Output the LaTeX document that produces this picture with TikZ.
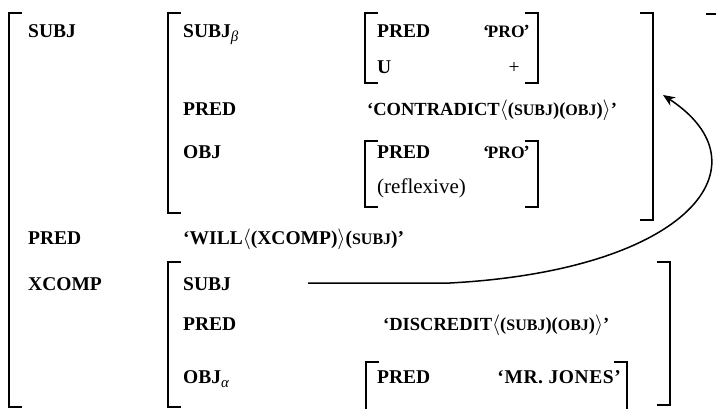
\documentclass[tikz,border=0pt]{standalone}
\usepackage{fontspec}
\setmainfont{Liberation Serif}
\usetikzlibrary{arrows.meta}
% small capitals for feature names inside semantic forms
\newcommand\smc[1]{{\fontsize{16}{17}\selectfont #1}}
% greek index on an attribute name
\newcommand\idx[1]{\raisebox{-4pt}{\mdseries\itshape\fontsize{15}{15}\selectfont #1}}
\newcommand\lang{{\mdseries\fontsize{20}{20}\selectfont$\langle$}}
\newcommand\rang{{\mdseries\fontsize{20}{20}\selectfont$\rangle$}}
\begin{document}
\begin{tikzpicture}[x=1pt,y=-1pt,
  attr/.style={anchor=base west, inner sep=0pt, font=\bfseries\fontsize{19.5}{22}\selectfont},
  form/.style={attr, font=\bfseries\fontsize{18.5}{22}\selectfont},
  plain/.style={anchor=base west, inner sep=0pt, font=\fontsize{21}{24}\selectfont},
  brk/.style={line width=1.1pt},
  link/.style={line width=1.5pt, -{Stealth[length=12pt,width=10pt]}}]
\useasboundingbox (0,0) rectangle (716,408);

% left bracket: \lbrk{x}{top}{bottom}, right bracket: \rbrk{x}{top}{bottom}
\newcommand\lbrk[3]{\draw[brk] (#1+13,#2) -- (#1,#2) -- (#1,#3) -- (#1+13,#3);}
\newcommand\rbrk[3]{\draw[brk] (#1-13,#2) -- (#1,#2) -- (#1,#3) -- (#1-13,#3);}

% outer f-structure
\lbrk{9}{13}{407}
\draw[brk] (706,14) -- (716,14);

% SUBJ f-structure
\lbrk{168}{13}{213}
\rbrk{653}{13}{220}
\lbrk{365}{13}{83}
\rbrk{538}{13}{83}
\lbrk{365}{141}{207}
\rbrk{538}{141}{207}

% XCOMP f-structure
\lbrk{168}{262}{407}
\rbrk{670}{262}{405}
\draw[brk] (379,362) -- (366,362) -- (366,410);
\draw[brk] (614,362) -- (627,362) -- (627,410);

% outer attributes
\node[attr] (f-subj)  at (28,37)  {SUBJ};
\node[attr] (f-pred)  at (28,244) {PRED};
\node[attr] (f-predv) at (183,244) {‘WILL\lang(XCOMP)\rang(\smc{SUBJ})’};
\node[attr] (f-xcomp) at (28,290) {XCOMP};

% SUBJ value
\node[attr] (s-subj)  at (183,37)  {SUBJ\idx{β}};
\node[attr] (b-pred)  at (377,37)  {PRED};
\node[form, anchor=base east] (b-pro) at (530,37) {‘\kern-1.5pt{\fontsize{17.5}{18}\selectfont PRO}\kern-1pt’};
\node[attr] (b-u)     at (377,73)  {U};
\node[attr, anchor=base] (b-plus) at (514,73) {\mdseries +};
\node[attr] (s-pred)  at (183,115) {PRED};
\node[form] (s-predv) at (367,115) {‘CONTRADICT\lang(\smc{SUBJ})(\smc{OBJ})\rang’};
\node[attr] (s-obj)   at (183,158) {OBJ};
\node[attr] (o-pred)  at (377,158) {PRED};
\node[form, anchor=base east] (o-pro) at (530,158) {‘\kern-1.5pt{\fontsize{17.5}{18}\selectfont PRO}\kern-1pt’};
\node[plain] (o-refl) at (377,193) {(reflexive)};

% XCOMP value
\node[attr] (x-subj)  at (183,290) {SUBJ};
\node[attr] (x-pred)  at (183,330) {PRED};
\node[form] (x-predv) at (383,330) {‘DISCREDIT\lang(\smc{SUBJ})(\smc{OBJ})\rang’};
\node[attr] (x-obj)   at (183,383) {OBJ\idx{α}};
\node[attr] (a-pred)  at (377,383) {PRED};
\node[attr, anchor=base east] (a-jones) at (621,383) {\addfontfeatures{LetterSpace=3}‘MR. JONES’};

% functional control link
\coordinate (ctl)  at (308,283);
\coordinate (bend) at (450,283);
\coordinate (tgt)  at (663,95);
\draw[link] (ctl) -- (bend) .. controls (690,270) and (770,165) .. (tgt);
\end{tikzpicture}
\end{document}
